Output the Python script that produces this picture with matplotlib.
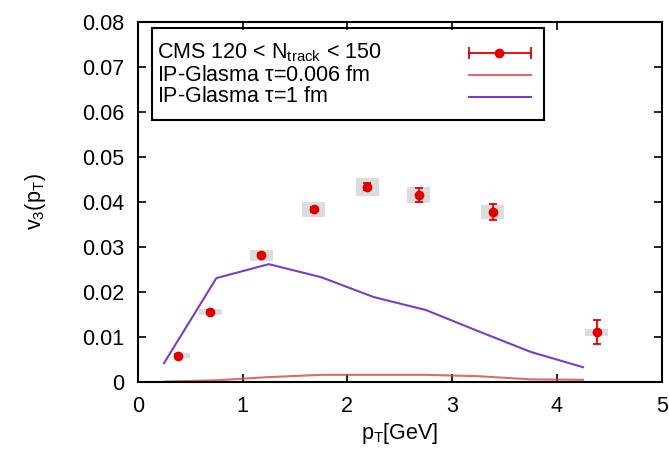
import matplotlib
matplotlib.use("Agg")
import matplotlib.pyplot as plt
from matplotlib.patches import Rectangle

plt.rcParams['font.family'] = ['Liberation Sans', 'DejaVu Sans']
plt.rcParams['mathtext.fontset'] = 'custom'
plt.rcParams['mathtext.rm'] = 'Liberation Sans'
plt.rcParams['mathtext.it'] = 'Liberation Sans'

# CMS data, 120 < Ntrack < 150
cms_pt = [0.38, 0.69, 1.18, 1.68, 2.19, 2.68, 3.39, 4.38]
cms_v3 = [0.0059, 0.0156, 0.0282, 0.0384, 0.0434, 0.0416, 0.0378, 0.0111]
cms_err = [0.0003, 0.0004, 0.0005, 0.0005, 0.0008, 0.0015, 0.0018, 0.0027]
cms_sys = [0.0006, 0.0007, 0.0012, 0.0017, 0.0020, 0.0018, 0.0016, 0.0008]
box_pt = [0.44, 0.69, 1.18, 1.68, 2.19, 2.68, 3.39, 4.38]
box_w = [0.12, 0.22, 0.22, 0.22, 0.22, 0.22, 0.22, 0.22]

# IP-Glasma curves
ipg_pt = [0.25, 0.75, 1.25, 1.75, 2.25, 2.75, 3.25, 3.75, 4.25]
ipg_early = [0.0001, 0.0004, 0.0011, 0.0016, 0.0016, 0.0016, 0.0013, 0.0006, 0.0005]
ipg_late = [0.0042, 0.0231, 0.0262, 0.0233, 0.0189, 0.0160, 0.0113, 0.0067, 0.0033]

labels = [r'CMS 120 < N$_{\rm track}$ < 150',
          r'IP-Glasma $\tau$=0.006 fm',
          r'IP-Glasma $\tau$=1 fm']

red = '#e00000'
purple = '#7a3cc8'
pink = '#d04848'
fs = 15.5

fig = plt.figure(figsize=(6.69, 4.5), dpi=100)
ax = fig.add_axes([0.206, 0.151, 0.783, 0.8])

ax.bar(box_pt, [2 * s for s in cms_sys],
       bottom=[v - s for v, s in zip(cms_v3, cms_sys)],
       width=box_w, color='#dcdcdc', zorder=1)
ax.plot(ipg_pt, ipg_early, color=pink, lw=1.5, alpha=0.8, zorder=2)
ax.plot(ipg_pt, ipg_late, color=purple, lw=1.5, zorder=2)
ax.errorbar(cms_pt, cms_v3, yerr=cms_err, fmt='o', color=red, ms=6,
            elinewidth=1.3, capsize=3, capthick=1.3, zorder=3)

ax.set_xlim(0, 5)
ax.set_ylim(0, 0.08)
ax.set_xticks([0, 1, 2, 3, 4, 5])
ax.set_yticks([0, 0.01, 0.02, 0.03, 0.04, 0.05, 0.06, 0.07, 0.08])
ax.set_yticklabels(['0', '0.01', '0.02', '0.03', '0.04', '0.05', '0.06', '0.07', '0.08'])
ax.tick_params(direction='in', length=6, width=1.2, top=True, right=True,
               labelsize=fs, pad=10)
for s in ax.spines.values():
    s.set_linewidth(1.5)

ax.set_xlabel(r'p$_{\rm T}$[GeV]', fontsize=fs, labelpad=3)
ax.set_ylabel(r'v$_3$(p$_{\rm T}$)', fontsize=fs, labelpad=24)

# gnuplot-style key: text on the left, samples on the right
tr = ax.transAxes
ax.add_patch(Rectangle((0.027, 0.728), 0.749, 0.255, transform=tr,
                       fill=False, lw=1.5, ec='black', zorder=5))
rows = [0.915, 0.852, 0.792]
for lab, yy in zip(labels, rows):
    ax.text(0.036, yy, lab, transform=tr, fontsize=fs, va='center', ha='left')
ax.plot([0.633, 0.750], [rows[0], rows[0]], color=red, lw=1.3, transform=tr)
ax.plot([0.633, 0.750], [rows[0], rows[0]], color=red, ls='none', marker='|',
        ms=8, mew=1.3, transform=tr)
ax.plot([0.690], [rows[0]], color=red, marker='o', ms=6, transform=tr)
ax.plot([0.633, 0.750], [rows[1], rows[1]], color=pink, lw=1.5, alpha=0.8, transform=tr)
ax.plot([0.633, 0.750], [rows[2], rows[2]], color=purple, lw=1.5, transform=tr)

fig.savefig('out.png', dpi=100)
